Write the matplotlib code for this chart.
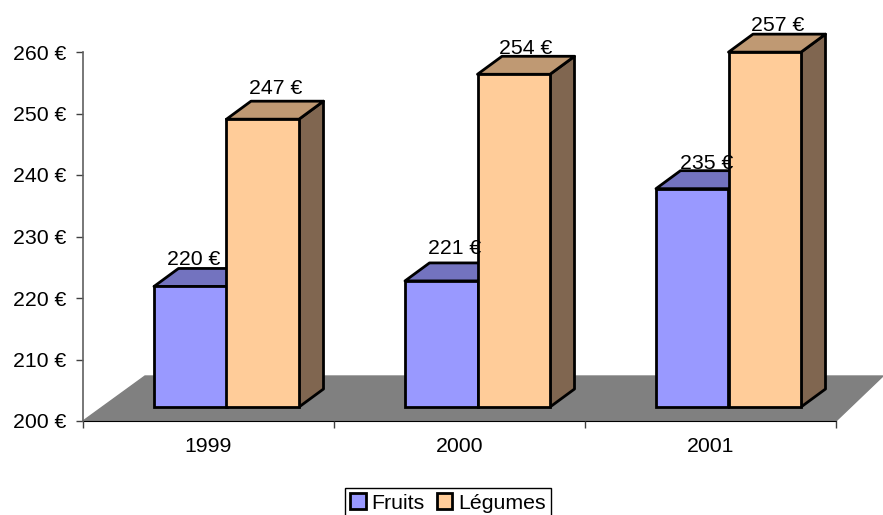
import matplotlib
matplotlib.use("Agg")
import matplotlib.pyplot as plt
from matplotlib.patches import Patch, Polygon
import numpy as np

years = ["1999", "2000", "2001"]
fruits_labels = [220, 221, 235]
legumes_labels = [247, 254, 257]
# height of the bars (the 3D view squeezes them a bit)
fruits_read = [219.6, 220.5, 235.5]
legumes_read = [246.8, 254.1, 257.7]

plt.rcParams['font.family'] = ['Liberation Sans', 'DejaVu Sans']

W, H = 883, 515
fig = plt.figure(figsize=(W / 100, H / 100), dpi=100)
ax = fig.add_axes([83 / W, (H - 421) / H, 753 / W, 369 / H])
ax.set_xlim(0, 3)
ax.set_ylim(200, 260)

px = 3 / 753  # one pixel in x data units
py = 60 / 369  # one pixel in y data units

# floor of the 3D box
floor = Polygon([(0, 200), (62 * px, 200 + 45 * py), (800 * px, 200 + 45 * py), (753 * px, 200)],
                closed=True, facecolor="#808080", edgecolor="#808080", lw=1, clip_on=False, zorder=1)
ax.add_patch(floor)

base = 200 + 14 * py
bar_w = 72.5 * px
dx = 24.5 * px
dy = 18 * py
start = 71 * px


def draw_bars(xs, tops, face, top_col, side_col, z):
    for x, t in zip(xs, tops):
        y = base + (t - 200)
        top = Polygon([(x, y), (x + dx, y + dy), (x + bar_w + dx, y + dy), (x + bar_w, y)],
                      closed=True, facecolor=top_col, edgecolor="black", lw=2, joinstyle="round", clip_on=False, zorder=z)
        side = Polygon([(x + bar_w, base), (x + bar_w + dx, base + dy), (x + bar_w + dx, y + dy), (x + bar_w, y)],
                       closed=True, facecolor=side_col, edgecolor="black", lw=2, joinstyle="round", clip_on=False, zorder=z)
        ax.add_patch(side)
        ax.add_patch(top)
        ax.bar(x, t - 200, width=bar_w, bottom=base, align="edge", color=face,
               edgecolor="black", linewidth=2, clip_on=False, zorder=z + 0.1)


xs_fruits = np.arange(3) + start
xs_legumes = xs_fruits + bar_w
draw_bars(xs_fruits, fruits_read, "#9999FF", "#7373BF", "#4D4D80", 2)
draw_bars(xs_legumes, legumes_read, "#FFCC99", "#BF9973", "#806650", 3)

# value labels, nudged by hand in pixels like in the original
nudge_f = [(3, 9), (13, 14), (14, 7)]
nudge_l = [(13, 13), (12, 8), (13, 9)]
for xs, tops, labels, nudge in [(xs_fruits, fruits_read, fruits_labels, nudge_f),
                                (xs_legumes, legumes_read, legumes_labels, nudge_l)]:
    for x, t, lab, n in zip(xs, tops, labels, nudge):
        ax.annotate(f"{lab} €", (x + bar_w / 2, base + (t - 200) + dy), xytext=n,
                    textcoords=("offset pixels"), ha="center", va="center",
                    fontsize=15.3, color="black", annotation_clip=False, zorder=6)

ax.set_yticks(np.arange(200, 261, 10))
ax.set_yticklabels([f"{v} €" for v in range(200, 261, 10)], fontsize=15.3)
ax.set_xticks([0, 1, 2, 3])
ax.set_xticklabels([])
for i, y in enumerate(years):
    ax.annotate(y, (i + 0.5, 200), xytext=(0, -26), textcoords="offset pixels", ha="center", va="center",
                fontsize=15.3, annotation_clip=False)
ax.tick_params(axis="y", length=5, width=1, color="#404040", pad=7)
ax.tick_params(axis="x", length=5, width=1, color="#404040")

for s in ["top", "right"]:
    ax.spines[s].set_visible(False)
ax.spines["left"].set_color("#606060")
ax.spines["left"].set_linewidth(1.2)
ax.spines["left"].set_bounds(200, 260)
ax.spines["bottom"].set_color("black")
ax.spines["bottom"].set_zorder(1.5)
ax.patch.set_alpha(0)

handles = [Patch(facecolor="#9999FF", edgecolor="black", lw=2, label="Fruits"),
           Patch(facecolor="#FFCC99", edgecolor="black", lw=2, label="Légumes")]
leg = fig.legend(handles=handles, loc="lower left", bbox_to_anchor=(345 / W, -3 / H), ncol=2, fontsize=15.3,
                 frameon=True, fancybox=False, edgecolor="black", framealpha=1, borderaxespad=0,
                 handlelength=0.75, handleheight=0.75, handletextpad=0.25, columnspacing=0.55,
                 borderpad=0.25)
leg.get_frame().set_linewidth(1)

fig.savefig("out.png", dpi=100)
